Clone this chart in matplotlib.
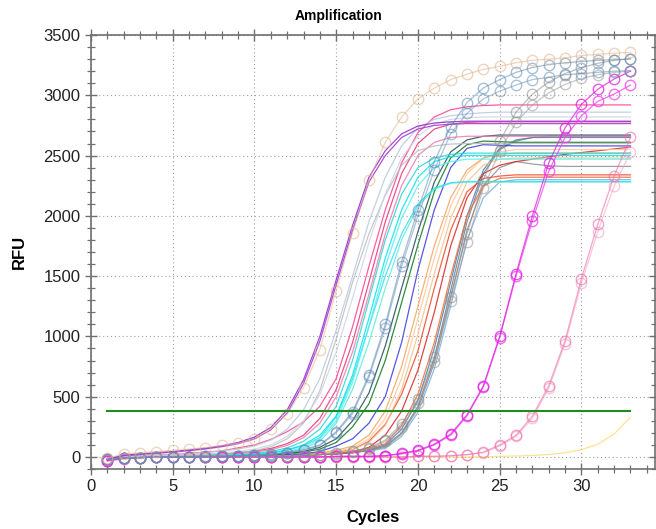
import matplotlib
matplotlib.use("Agg")
import matplotlib.pyplot as plt
from matplotlib.ticker import MultipleLocator

plt.rcParams['font.family'] = ['Liberation Sans', 'DejaVu Sans']

cycles = list(range(1, 34))

# curves with circle markers
tan_circ = [-10, 25, 35, 45, 55, 65, 78, 95, 112, 145, 235, 355, 575, 890, 1380, 1860, 2295, 2610, 2820, 2970,
            3060, 3130, 3175, 3215, 3240, 3270, 3290, 3300, 3310, 3330, 3340, 3350, 3355]
steel_circ_a = [-20, -10, -5, 0, 0, 0, 5, 5, 10, 15, 22, 35, 60, 100, 210, 375, 680, 1100, 1620, 2050,
                2450, 2740, 2940, 3060, 3130, 3190, 3230, 3255, 3270, 3280, 3290, 3295, 3300]
steel_circ_b = [-20, -10, -5, 0, 0, 0, 5, 5, 10, 15, 20, 32, 55, 95, 200, 360, 660, 1070, 1580, 2000,
                2380, 2680, 2850, 2970, 3035, 3085, 3130, 3150, 3170, 3180, 3190, 3200, 3205]
grey_circ_a = [-20, -10, -5, 0, 0, 0, 0, 5, 5, 5, 8, 10, 10, 20, 30, 50, 75, 140, 275, 480,
               830, 1330, 1850, 2300, 2620, 2860, 3010, 3110, 3180, 3230, 3265, 3290, 3305]
grey_circ_b = [-20, -10, -5, 0, 0, 0, 0, 5, 5, 5, 8, 10, 10, 18, 28, 45, 70, 130, 250, 450,
               790, 1290, 1780, 2230, 2535, 2775, 2920, 3020, 3090, 3140, 3170, 3190, 3200]
magenta_circ_a = [-30, -10, -5, 0, 0, 0, 0, 0, 0, 0, 0, 0, 0, 0, 5, 5, 5, 10, 30, 55,
                  105, 190, 350, 590, 1000, 1520, 2000, 2440, 2730, 2925, 3050, 3135, 3200]
magenta_circ_b = [-35, -15, -5, 0, 0, 0, 0, 0, 0, 0, 0, 0, 0, 0, 5, 5, 5, 10, 25, 50,
                  100, 180, 340, 580, 990, 1500, 1960, 2370, 2650, 2830, 2950, 3010, 3085]
pink_circ_a = [-25, -10, -5, 0, 0, 0, 0, 0, 0, 0, 0, 0, 0, 0, 0, 0, 0, 0, 0, 5,
               5, 10, 20, 40, 100, 180, 340, 590, 965, 1480, 1930, 2330, 2650]
pink_circ_b = [-25, -10, -5, 0, 0, 0, 0, 0, 0, 0, 0, 0, 0, 0, 0, 0, 0, 0, 0, 5,
               5, 10, 18, 35, 90, 170, 320, 570, 940, 1440, 1870, 2245, 2530]

# plain curves
purple_a = [-20, 15, 25, 35, 45, 58, 72, 92, 120, 165, 245, 390, 640, 1000, 1470, 1920, 2320, 2540, 2680, 2745,
            2770, 2780, 2785, 2785, 2785, 2785, 2785, 2785, 2785, 2785, 2785, 2785, 2785]
purple_b = [-25, 10, 20, 30, 40, 52, 66, 85, 110, 150, 225, 365, 610, 960, 1430, 1880, 2280, 2500, 2650, 2720,
            2750, 2760, 2765, 2765, 2765, 2765, 2765, 2765, 2765, 2765, 2765, 2765, 2765]
lav_a = [-20, 5, 10, 15, 20, 28, 38, 50, 65, 90, 140, 230, 390, 650, 1050, 1500, 1950, 2320, 2580, 2730,
         2800, 2830, 2845, 2855, 2860, 2860, 2860, 2860, 2860, 2860, 2860, 2860, 2860]
lav_b = [-20, 0, 5, 10, 15, 20, 25, 35, 45, 65, 100, 170, 300, 520, 870, 1320, 1780, 2180, 2480, 2660,
         2760, 2800, 2815, 2820, 2820, 2820, 2820, 2820, 2820, 2820, 2820, 2820, 2820]
silver = [-20, -5, 0, 5, 10, 15, 20, 25, 35, 50, 85, 150, 280, 550, 980, 1450, 1850, 2170, 2420, 2540,
          2580, 2595, 2600, 2600, 2600, 2600, 2600, 2600, 2600, 2600, 2600, 2600, 2600]
pink_a = [-10, 5, 10, 15, 20, 30, 40, 50, 75, 100, 145, 210, 290, 420, 650, 1080, 1580, 2050, 2440, 2690,
          2820, 2880, 2905, 2915, 2920, 2920, 2920, 2920, 2920, 2920, 2920, 2920, 2920]
pink_b = [-20, -5, 0, 5, 10, 15, 20, 25, 35, 50, 70, 110, 180, 320, 560, 950, 1450, 1950, 2350, 2600,
          2720, 2760, 2775, 2780, 2780, 2780, 2780, 2780, 2780, 2780, 2780, 2780, 2780]
pink_c = [-20, -5, 0, 5, 10, 15, 20, 25, 30, 40, 60, 95, 160, 280, 500, 870, 1350, 1850, 2250, 2500,
          2610, 2650, 2660, 2660, 2660, 2660, 2660, 2660, 2660, 2660, 2660, 2660, 2660]
cyan_a = [-20, -10, -5, 0, 0, 5, 5, 10, 15, 20, 35, 60, 100, 180, 340, 680, 1150, 1650, 2050, 2320,
          2450, 2490, 2500, 2500, 2500, 2500, 2500, 2500, 2500, 2500, 2500, 2500, 2500]
cyan_b = [-20, -10, -5, 0, 5, 5, 10, 15, 20, 30, 45, 75, 130, 230, 420, 800, 1300, 1800, 2180, 2400,
          2480, 2510, 2520, 2520, 2520, 2520, 2520, 2520, 2520, 2520, 2520, 2520, 2520]
cyan_c = [-20, -10, -5, 0, 0, 0, 5, 5, 10, 15, 25, 45, 80, 150, 300, 620, 1080, 1580, 1980, 2250,
          2400, 2450, 2470, 2470, 2470, 2470, 2470, 2470, 2470, 2470, 2470, 2470, 2470]
cyan_d = [-20, -10, -5, 0, 0, 5, 5, 10, 15, 20, 30, 55, 95, 160, 330, 650, 1080, 1500, 1850, 2100,
          2230, 2275, 2285, 2285, 2285, 2285, 2285, 2285, 2285, 2285, 2285, 2285, 2285]
cyan_e = [-20, -10, -5, 0, 0, 0, 5, 5, 10, 15, 25, 40, 70, 130, 280, 560, 950, 1400, 1800, 2080,
          2220, 2270, 2280, 2280, 2280, 2280, 2280, 2280, 2280, 2280, 2280, 2280, 2280]
darkslate = [-20, -10, -5, 0, 0, 0, 5, 5, 10, 15, 20, 30, 45, 80, 150, 300, 530, 920, 1400, 1870,
             2280, 2530, 2630, 2660, 2670, 2670, 2670, 2670, 2670, 2670, 2670, 2670, 2670]
green = [-20, -10, -5, 0, 0, 0, 5, 5, 10, 15, 20, 28, 40, 65, 120, 250, 440, 800, 1280, 1760,
         2200, 2480, 2590, 2620, 2615, 2610, 2610, 2610, 2610, 2610, 2610, 2610, 2610]
blue = [-20, -10, -5, 0, 0, 0, 5, 5, 10, 12, 15, 20, 25, 45, 90, 150, 280, 500, 950, 1550,
        2050, 2400, 2560, 2590, 2585, 2580, 2580, 2580, 2580, 2580, 2580, 2580, 2580]
orange_a = [-20, -10, -5, 0, 0, 0, 5, 5, 8, 10, 15, 20, 25, 35, 55, 90, 180, 380, 750, 1250,
            1750, 2150, 2380, 2480, 2510, 2520, 2520, 2520, 2520, 2520, 2520, 2520, 2520]
orange_b = [-20, -10, -5, 0, 0, 0, 5, 5, 8, 10, 12, 15, 20, 30, 45, 75, 150, 320, 650, 1150,
            1650, 2080, 2350, 2480, 2530, 2550, 2550, 2550, 2550, 2550, 2550, 2550, 2550]
orange_c = [-20, -10, -5, 0, 0, 0, 5, 5, 8, 10, 12, 15, 18, 25, 35, 60, 120, 260, 560, 1020,
            1520, 1980, 2280, 2420, 2470, 2480, 2480, 2480, 2480, 2480, 2480, 2480, 2480]
red_a = [-20, -10, -5, 0, 0, 0, 0, 5, 5, 8, 10, 15, 20, 30, 40, 60, 130, 270, 520, 880,
         1400, 1880, 2200, 2310, 2330, 2340, 2340, 2340, 2340, 2340, 2340, 2340, 2340]
red_b = [-20, -10, -5, 0, 0, 0, 0, 5, 5, 8, 10, 12, 15, 20, 28, 40, 80, 180, 380, 720,
         1200, 1750, 2150, 2350, 2420, 2450, 2470, 2490, 2510, 2525, 2540, 2555, 2570]
orangered = [-20, -10, -5, 0, 0, 0, 0, 5, 5, 8, 10, 12, 15, 20, 28, 40, 70, 110, 260, 520,
             950, 1500, 2000, 2250, 2310, 2320, 2320, 2320, 2320, 2320, 2320, 2320, 2320]
grey_l = [-20, -10, -5, 0, 0, 0, 0, 5, 5, 8, 10, 12, 15, 20, 25, 35, 55, 80, 190, 400,
          780, 1320, 1880, 2250, 2400, 2450, 2430, 2415, 2410, 2410, 2410, 2410, 2410]
slate = [-20, -10, -5, 0, 0, 0, 0, 5, 5, 8, 10, 12, 15, 20, 25, 35, 55, 90, 200, 420,
         820, 1380, 1950, 2350, 2550, 2620, 2650, 2660, 2660, 2660, 2660, 2660, 2660]
steel_l = [-20, -10, -5, 0, 0, 0, 0, 5, 5, 8, 10, 12, 15, 20, 25, 35, 60, 100, 230, 470,
           900, 1450, 2000, 2380, 2560, 2630, 2650, 2650, 2650, 2650, 2650, 2650, 2650]
skyblue = [-20, -10, -5, 0, 0, 0, 0, 5, 5, 8, 10, 12, 15, 20, 25, 35, 50, 70, 170, 370,
           730, 1250, 1800, 2150, 2280, 2300, 2300, 2300, 2300, 2300, 2300, 2300, 2300]
yellow = [-10, -5, 0, 0, 0, 0, 0, 0, 0, 0, 0, 0, 0, 0, 0, 0, 0, 0, 0, 0,
          0, 0, 0, 0, 5, 8, 12, 20, 35, 60, 105, 190, 330]

threshold = 385

plain = [
    (yellow, '#FFD860', 0.7),
    (skyblue, '#7AB0E0', 0.85), (steel_l, '#4682B4', 0.85), (slate, '#708090', 0.85),
    (grey_l, '#8E8E8E', 0.85), (orangered, '#FF6A30', 0.85), (red_b, '#D82424', 0.85),
    (red_a, '#F04828', 0.85),
    (orange_c, '#F5C28C', 0.85), (orange_b, '#FFC89A', 0.85), (orange_a, '#F4A460', 0.85),
    (blue, '#4444DD', 0.9), (green, '#2E8B3A', 1.0), (darkslate, '#2F5560', 0.9),
    (cyan_e, '#60E8E0', 0.85), (cyan_d, '#30E0F0', 0.85), (cyan_c, '#55F0F0', 0.85),
    (cyan_b, '#22D8D8', 0.85), (cyan_a, '#00E5EE', 0.85),
    (pink_c, '#F078B0', 0.85), (pink_b, '#E8407A', 0.9), (pink_a, '#FF4A96', 0.9),
    (silver, '#BDBDBD', 0.85), (lav_b, '#CCD4E4', 0.85), (lav_a, '#B8C8E0', 0.85),
    (purple_b, '#A040D0', 0.9), (purple_a, '#9932CC', 0.9),
]
marked = [
    (pink_circ_b, '#F4A2C4', 0.6), (pink_circ_a, '#F06AA8', 0.6),
    (magenta_circ_b, '#F040F0', 0.75), (magenta_circ_a, '#E020E0', 0.75),
    (grey_circ_b, '#9A9A9A', 0.55), (grey_circ_a, '#8A8A8A', 0.55),
    (steel_circ_b, '#6A92B8', 0.55), (steel_circ_a, '#5A8AB8', 0.55),
    (tan_circ, '#E0B48A', 0.55),
]

fig = plt.figure(figsize=(6.56, 5.29), dpi=100)
ax = fig.add_axes([91 / 656, 60 / 529, 564 / 656, 434 / 529])

for vals, col, a in plain:
    ax.plot(cycles, vals, color=col, lw=0.9, alpha=a)
for vals, col, a in marked:
    ax.plot(cycles, vals, color=col, lw=0.9, alpha=a, marker='o', ms=7.5,
            mfc='none', mec=col, mew=1.0)

ax.plot([1, 33], [threshold, threshold], color='#1E8C1E', lw=1.5)

ax.set_xlim(0, 34.5)
ax.set_ylim(-100, 3500)
ax.set_xticks(range(0, 31, 5))
ax.xaxis.set_minor_locator(MultipleLocator(1))
ax.set_yticks(range(0, 3501, 500))
ax.yaxis.set_minor_locator(MultipleLocator(100))
ax.grid(which='major', linestyle=(0, (1, 2.5)), color='#a0a0a0', lw=0.8)

for s in ax.spines.values():
    s.set_color('#707070')
    s.set_linewidth(1.2)
ax.tick_params(which='both', direction='inout', color='#707070', top=True, right=True,
               labelsize=12, labelcolor='#222222')
ax.tick_params(which='major', length=8, width=1.0)
ax.tick_params(which='minor', length=6, width=0.9)

ax.set_xlabel('Cycles', fontsize=12, fontweight='bold', labelpad=11)
ax.set_ylabel('RFU', fontsize=12, fontweight='bold', labelpad=12)
fig.text(339 / 656, 1 - 16 / 529, 'Amplification', ha='center', va='center',
         fontsize=10, fontweight='bold')

fig.savefig('out.png', dpi=100)
